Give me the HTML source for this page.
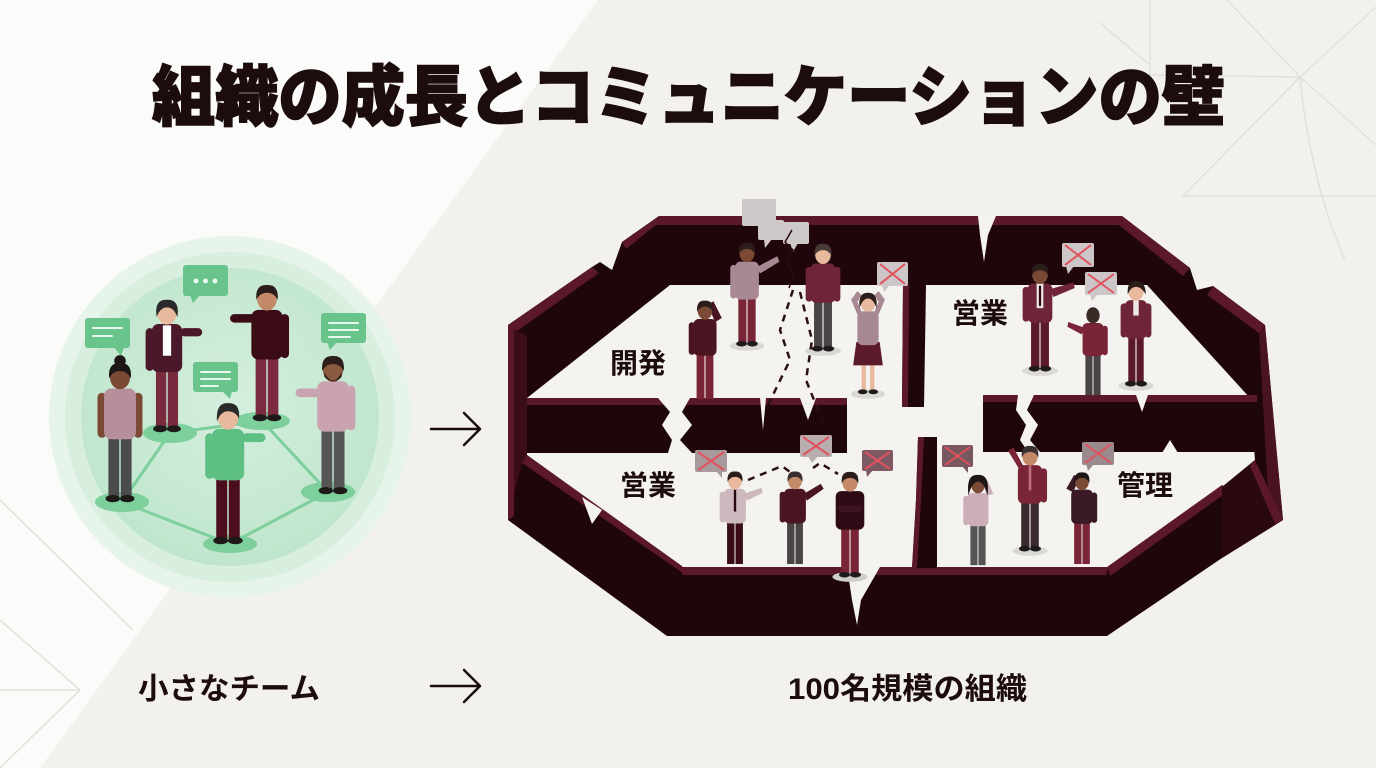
<!DOCTYPE html>
<html><head><meta charset="utf-8">
<style>
html,body{margin:0;padding:0;width:1376px;height:768px;overflow:hidden;background:#f2f1ed}
svg{display:block}
text{font-family:"Liberation Sans","Noto Sans CJK JP",sans-serif}
</style></head><body>
<svg width="1376" height="768" viewBox="0 0 1376 768" xmlns="http://www.w3.org/2000/svg">
<defs>
<radialGradient id="gc" cx="50%" cy="45%" r="55%">
<stop offset="0" stop-color="#d4efde"/><stop offset="1" stop-color="#c0e5cd"/>
</radialGradient>
</defs>
<rect width="1376" height="768" fill="#f2f1ed"/>
<polygon points="0,0 598,0 40,768 0,768" fill="#fbfbfa"/>
<g stroke="#e2e0db" stroke-width="1.5" fill="none">
<path d="M1227,0 L1300,77 L1376,7"/>
<path d="M1300,77 L1183,196 L1376,196"/>
<path d="M1300,77 L1376,145"/>
<path d="M1300,77 Q1310,180 1345,260"/>
<path d="M1150,0 L1150,75 L1300,77"/>
<path d="M1100,23 L1150,65"/>
<path d="M0,500 L133,630"/>
<path d="M0,620 L80,690 L0,768"/>
<path d="M0,690 L80,690"/>
</g>

<!-- Title -->
<text x="152" y="120" font-size="66" font-weight="900" fill="#1c0c0e" stroke="#1c0c0e" stroke-width="1.6" textLength="1073" lengthAdjust="spacingAndGlyphs">組織の成長とコミュニケーションの壁</text>

<!-- Green circle -->
<circle cx="230" cy="417" r="181" fill="#e6f4ea"/>
<circle cx="230" cy="417" r="165" fill="#d8efe0"/>
<circle cx="230" cy="417" r="149" fill="url(#gc)"/>
<g stroke="#7dcf9b" stroke-width="3" fill="none">
<path d="M122,502 L170,433 L262,421 L328,492 L230,544 Z"/>
</g>
<g fill="#7dcf9b">
<ellipse cx="170" cy="433" rx="27" ry="10"/>
<ellipse cx="262" cy="421" rx="28" ry="9"/>
<ellipse cx="328" cy="492" rx="27" ry="10"/>
<ellipse cx="122" cy="502" rx="27" ry="10"/>
<ellipse cx="230" cy="544" rx="27" ry="9"/>
</g>
<!-- green bubbles -->
<g fill="#68c48b">
<rect x="85" y="318" width="45" height="30" rx="3"/><path d="M114,347 L121,356 L124,347Z"/>
<rect x="183" y="265" width="45" height="31" rx="3"/><path d="M190,295 L193,303 L200,295Z"/>
<rect x="193" y="362" width="45" height="30" rx="3"/><path d="M222,391 L230,399 L232,391Z"/>
<rect x="321" y="313" width="45" height="30" rx="3"/><path d="M327,342 L330,350 L337,342Z"/>
</g>
<g stroke="#e8f7ee" stroke-width="2" stroke-linecap="round">
<path d="M93,328 L122,328 M93,336 L112,336"/>
<path d="M201,372 L230,372 M201,379 L230,379 M201,386 L218,386"/>
<path d="M329,323 L358,323 M329,330 L358,330 M329,337 L350,337"/>
</g>
<g fill="#eaf8ef"><circle cx="196" cy="281" r="2.5"/><circle cx="205.5" cy="281" r="2.5"/><circle cx="215" cy="281" r="2.5"/></g>

<!-- green people -->
<g transform="translate(120,503) scale(1.45)">
<rect x="-8" y="-48" width="7.5" height="45" fill="#4b4b4d"/><rect x="0.5" y="-48" width="7.5" height="45" fill="#4b4b4d"/>
<ellipse cx="-5" cy="-3" rx="5" ry="2.5" fill="#1e1a1a"/><ellipse cx="5" cy="-3" rx="5" ry="2.5" fill="#1e1a1a"/>
<rect x="-15.5" y="-76" width="6" height="31" rx="3" fill="#7a4a35"/><rect x="9.5" y="-76" width="6" height="31" rx="3" fill="#7a4a35"/>
<rect x="-11" y="-79" width="22" height="35" rx="5" fill="#b68f9b"/>
<ellipse cx="0" cy="-87" rx="7" ry="8.5" fill="#7a4a35"/>
<path d="M-7.5,-86Q-8.5,-97 0,-96.5Q8.5,-97 7.5,-86Q5,-91 0,-91Q-5,-91-7.5,-86Z" fill="#1e1616"/><circle cx="0" cy="-98" r="4" fill="#1e1616"/>
</g>
<g transform="translate(167,433) scale(1.38)">
<rect x="-8" y="-48" width="7.5" height="45" fill="#7a2a3e"/><rect x="0.5" y="-48" width="7.5" height="45" fill="#7a2a3e"/>
<ellipse cx="-5" cy="-3" rx="5" ry="2.5" fill="#1e1a1a"/><ellipse cx="5" cy="-3" rx="5" ry="2.5" fill="#1e1a1a"/>
<rect x="-15.5" y="-76" width="6" height="31" rx="3" fill="#4a1828"/><rect x="9.5" y="-76" width="16" height="6" rx="3" fill="#4a1828"/>
<rect x="-11" y="-79" width="22" height="35" rx="5" fill="#4a1828"/><rect x="-3" y="-78" width="6" height="22" fill="#ffffff"/>
<ellipse cx="0" cy="-87" rx="7" ry="8.5" fill="#e8b99c"/>
<path d="M-7.5,-84Q-9.5,-97 0,-96.5Q9.5,-97 7.5,-84Q5,-91 0,-91Q-5,-91-7.5,-84Z" fill="#2b2a2a"/>
</g>
<g transform="translate(267,422) scale(1.42)">
<rect x="-8" y="-48" width="7.5" height="45" fill="#7b2a40"/><rect x="0.5" y="-48" width="7.5" height="45" fill="#7b2a40"/>
<ellipse cx="-5" cy="-3" rx="5" ry="2.5" fill="#1e1a1a"/><ellipse cx="5" cy="-3" rx="5" ry="2.5" fill="#1e1a1a"/>
<rect x="-26" y="-76" width="18" height="6" rx="3" fill="#3b0b16"/><rect x="9.5" y="-76" width="6" height="31" rx="3" fill="#3b0b16"/>
<rect x="-11" y="-79" width="22" height="35" rx="5" fill="#3b0b16"/>
<ellipse cx="0" cy="-87" rx="7" ry="8.5" fill="#c48a68"/>
<path d="M-7.5,-86Q-8.5,-97 0,-96.5Q8.5,-97 7.5,-86Q5,-91 0,-91Q-5,-91-7.5,-86Z" fill="#2b1d1a"/>
</g>
<g transform="translate(333,495) scale(1.44)">
<rect x="-8" y="-48" width="7.5" height="45" fill="#555556"/><rect x="0.5" y="-48" width="7.5" height="45" fill="#555556"/>
<ellipse cx="-5" cy="-3" rx="5" ry="2.5" fill="#1e1a1a"/><ellipse cx="5" cy="-3" rx="5" ry="2.5" fill="#1e1a1a"/>
<rect x="-26" y="-74" width="18" height="6" rx="3" fill="#c9a4b0"/><rect x="9.5" y="-76" width="6" height="31" rx="3" fill="#c9a4b0"/>
<rect x="-11" y="-79" width="22" height="35" rx="5" fill="#c9a4b0"/>
<ellipse cx="0" cy="-87" rx="7" ry="8.5" fill="#8a5a40"/>
<path d="M-7.5,-86Q-8.5,-97 0,-96.5Q8.5,-97 7.5,-86Q5,-91 0,-91Q-5,-91-7.5,-86Z" fill="#2b1d1a"/><path d="M-6,-85 Q0,-74 6,-85 L6,-82 Q0,-76 -6,-82Z" fill="#2b1d1a"/>
</g>
<g transform="translate(228,545) scale(1.47)">
<rect x="-8" y="-48" width="7.5" height="45" fill="#4a0e1c"/><rect x="0.5" y="-48" width="7.5" height="45" fill="#4a0e1c"/>
<ellipse cx="-5" cy="-3" rx="5" ry="2.5" fill="#1e1a1a"/><ellipse cx="5" cy="-3" rx="5" ry="2.5" fill="#1e1a1a"/>
<rect x="-15.5" y="-76" width="6" height="31" rx="3" fill="#5dbf82"/><rect x="9.5" y="-76" width="16" height="6" rx="3" fill="#5dbf82"/>
<rect x="-11" y="-79" width="22" height="35" rx="5" fill="#5dbf82"/>
<ellipse cx="0" cy="-87" rx="7" ry="8.5" fill="#e8b99c"/>
<path d="M-7.5,-84Q-8.5,-97 0,-96.5Q8.5,-97 7.5,-86Q5,-91 0,-91Q-5,-91-7.5,-84Z" fill="#2a2a2a"/>
</g>

<!-- Arrows -->
<g stroke="#1c0c0e" stroke-width="2.5" fill="none" stroke-linecap="round" stroke-linejoin="round">
<path d="M431,429 L480,429 M464,413 L480,429 L464,445"/>
<path d="M431,686 L480,686 M464,670 L480,686 L464,702"/>
</g>

<!-- Walls -->
<path d="M659,216 L1122,216 L1190,268 L1197,290 L1213,286 L1265,325 L1283,520 L1222,558 L1107,636 L667,636 L508,520 L508,325 L592,267 L600,262 L612,270 L622,242 Z" fill="#1f060b"/>
<path d="M670,285 L1147,285 L1250,398 L1255,460 L1222,487 L1107,568 L682,568 L527,455 L527,398 Z" fill="#f4f3f0"/>
<g fill="#5a1828">
<path d="M659,216 L1122,216 L1190,268 L1183,276 L1119,225 L656,225 Z"/>
<path d="M659,216 L656,225 L626,249 L622,242 Z"/>
<path d="M592,267 L599,273 L517,331 L508,325 Z"/>
<path d="M1213,286 L1265,325 L1259,333 L1207,295 Z"/>
<path d="M527,455 L682,566 L686,575 L522,463 Z"/>
<rect x="682" y="567" width="425" height="8"/>
<path d="M1107,567 L1222,485 L1230,490 L1110,576 Z"/>
</g>
<path d="M508,325 L517,331 L527,336 L527,455 L522,463 L508,520 Z" fill="#3a0d18"/>
<path d="M508,325 L514,329 L514,516 L508,520 Z" fill="#5a1828"/>
<path d="M1259,333 L1265,325 L1283,520 L1270,527 Z" fill="#4a1322"/>
<path d="M1222,487 L1255,460 L1283,520 L1222,558 Z" fill="#2a0810"/>
<path d="M1255,460 L1283,520 L1275,524 L1250,466 Z" fill="#5a1828"/>
<!-- cracks outer -->
<path d="M978,216 L996,216 L988,235 L984,262 L980,235 Z" fill="#f4f3f0"/>
<path d="M847,567 L880,567 L861,600 L857,625 L852,600 Z" fill="#f4f3f0"/>
<path d="M582,497 L602,510 L592,524 Z" fill="#f4f3f0"/>
<!-- middle west wall -->
<rect x="527" y="398" width="320" height="55" fill="#1f060b"/>
<rect x="527" y="398" width="320" height="7" fill="#5a1828"/>
<path d="M658,398 L690,398 L682,412 L692,425 L680,440 L692,453 L668,453 L672,440 L662,425 L670,412 Z" fill="#f4f3f0"/>
<path d="M800,398 L816,398 L808,420 Z" fill="#f4f3f0"/>
<path d="M760,398 L766,398 L763,430 Z" fill="#f4f3f0"/>
<!-- middle east wall -->
<rect x="983" y="395" width="274" height="57" fill="#1f060b"/>
<rect x="983" y="395" width="274" height="7" fill="#5a1828"/>
<path d="M1018,395 L1034,395 L1027,410 L1038,425 L1030,440 L1040,452 L1028,452 L1020,440 L1026,425 L1016,410 Z" fill="#f4f3f0"/>
<path d="M1136,395 L1148,395 L1142,412 Z" fill="#f4f3f0"/>
<path d="M1162,453 L1178,453 L1170,440 Z" fill="#f4f3f0"/>
<!-- vertical dividers -->
<path d="M903,285 L926,285 L924,407 L902,407 Z" fill="#1f060b"/>
<path d="M903,285 L909,285 L908,407 L902,407 Z" fill="#5a1828"/>
<path d="M918,437 L937,437 L937,568 L912,568 L916,500 Z" fill="#1f060b"/>
<path d="M918,437 L924,437 L921,500 L917,568 L912,568 L916,500 Z" fill="#5a1828"/>

<!-- Wall-scene people -->
<g transform="translate(705,402) scale(1.05)">
<rect x="-8" y="-48" width="7.5" height="45" fill="#7a2438"/><rect x="0.5" y="-48" width="7.5" height="45" fill="#7a2438"/>
<rect x="-15.5" y="-76" width="6" height="31" rx="3" fill="#4a1420"/><path d="M9.5,-76 L16,-80 L8,-96 L3,-93 Z" fill="#4a1420"/>
<rect x="-11" y="-79" width="22" height="35" rx="5" fill="#4a1420"/>
<ellipse cx="0" cy="-87" rx="7" ry="8.5" fill="#7a4a35"/>
<path d="M-7.5,-86Q-8.5,-97 0,-96.5Q8.5,-97 7.5,-86Q5,-91 0,-91Q-5,-91-7.5,-86Z" fill="#2b1d1a"/>
</g>
<g transform="translate(747,347) scale(1.08)">
<ellipse cx="0" cy="-1" rx="16" ry="4.5" fill="#dad8d5"/>
<rect x="-8" y="-48" width="7.5" height="45" fill="#7a2438"/><rect x="0.5" y="-48" width="7.5" height="45" fill="#7a2438"/>
<ellipse cx="-5" cy="-3" rx="5" ry="2.5" fill="#1e1a1a"/><ellipse cx="5" cy="-3" rx="5" ry="2.5" fill="#1e1a1a"/>
<rect x="-15.5" y="-76" width="6" height="31" rx="3" fill="#a88892"/><path d="M9,-74 L28,-84 L30,-79 L12,-68 Z" fill="#a88892"/>
<rect x="-11" y="-79" width="22" height="35" rx="5" fill="#a88892"/>
<ellipse cx="0" cy="-87" rx="7" ry="8.5" fill="#7a4a35"/>
<path d="M-7.5,-86Q-8.5,-97 0,-96.5Q8.5,-97 7.5,-86Q5,-91 0,-91Q-5,-91-7.5,-86Z" fill="#2b1d1a"/>
</g>
<g transform="translate(823,352) scale(1.12)">
<ellipse cx="0" cy="-1" rx="16" ry="4.5" fill="#dad8d5"/>
<rect x="-8" y="-48" width="7.5" height="45" fill="#4a4446"/><rect x="0.5" y="-48" width="7.5" height="45" fill="#4a4446"/>
<ellipse cx="-5" cy="-3" rx="5" ry="2.5" fill="#1e1a1a"/><ellipse cx="5" cy="-3" rx="5" ry="2.5" fill="#1e1a1a"/>
<rect x="-15.5" y="-76" width="6" height="31" rx="3" fill="#6e2537"/><rect x="9.5" y="-76" width="6" height="31" rx="3" fill="#6e2537"/>
<rect x="-11" y="-79" width="22" height="35" rx="5" fill="#6e2537"/>
<ellipse cx="0" cy="-87" rx="7" ry="8.5" fill="#e8b99c"/>
<path d="M-7.5,-86Q-8.5,-97 0,-96.5Q8.5,-97 7.5,-86Q5,-91 0,-91Q-5,-91-7.5,-86Z" fill="#4a3a35"/>
</g>
<g transform="translate(868,395) scale(1.06)">
<ellipse cx="0" cy="-1" rx="16" ry="4.5" fill="#dad8d5"/>
<rect x="-6" y="-40" width="4" height="37" fill="#e8b99c"/><rect x="2" y="-40" width="4" height="37" fill="#e8b99c"/>
<ellipse cx="-5" cy="-3" rx="4.5" ry="2.3" fill="#1e1a1a"/><ellipse cx="5" cy="-3" rx="4.5" ry="2.3" fill="#1e1a1a"/>
<path d="M-11,-50 L11,-50 L14,-28 L-14,-28 Z" fill="#5a1a2a"/>
<path d="M-10,-76 L-16,-90 L-10,-98 L-6,-94 L-10,-88 L-5,-76 Z" fill="#a88892"/><path d="M10,-76 L16,-90 L10,-98 L6,-94 L10,-88 L5,-76 Z" fill="#a88892"/>
<rect x="-10" y="-79" width="20" height="32" rx="5" fill="#a88892"/>
<ellipse cx="0" cy="-87" rx="7" ry="8.5" fill="#e8b99c"/>
<path d="M-8,-82Q-9.5,-97 0,-96.5Q9.5,-97 8,-82Q5,-91 0,-91Q-5,-91-8,-82Z" fill="#2b1d1a"/>
</g>
<g transform="translate(1040,372) scale(1.12)">
<ellipse cx="0" cy="-1" rx="16" ry="4.5" fill="#dad8d5"/>
<rect x="-8" y="-48" width="7.5" height="45" fill="#5a1a2a"/><rect x="0.5" y="-48" width="7.5" height="45" fill="#5a1a2a"/>
<ellipse cx="-5" cy="-3" rx="5" ry="2.5" fill="#1e1a1a"/><ellipse cx="5" cy="-3" rx="5" ry="2.5" fill="#1e1a1a"/>
<rect x="-15.5" y="-76" width="6" height="31" rx="3" fill="#6e2537"/><path d="M9,-74 L30,-80 L31,-75 L12,-67 Z" fill="#6e2537"/>
<rect x="-11" y="-79" width="22" height="35" rx="5" fill="#6e2537"/><rect x="-3" y="-79" width="6" height="22" fill="#f0e6e8"/><rect x="-1" y="-77" width="2" height="18" fill="#2a0a12"/>
<ellipse cx="0" cy="-87" rx="7" ry="8.5" fill="#7a4a35"/>
<path d="M-7.5,-86Q-8.5,-97 0,-96.5Q8.5,-97 7.5,-86Q5,-91 0,-91Q-5,-91-7.5,-86Z" fill="#2b1d1a"/>
</g>
<g transform="translate(1093,398) scale(0.95)">
<rect x="-8" y="-48" width="7.5" height="45" fill="#4a4446"/><rect x="0.5" y="-48" width="7.5" height="45" fill="#4a4446"/>
<path d="M-9,-74 L-26,-80 L-27,-75 L-12,-67 Z" fill="#7a2438"/><rect x="9.5" y="-76" width="6" height="31" rx="3" fill="#7a2438"/>
<rect x="-11" y="-79" width="22" height="35" rx="5" fill="#7a2438"/>
<ellipse cx="0" cy="-87" rx="7" ry="8.5" fill="#3a2a25"/>
</g>
<g transform="translate(1136,387) scale(1.1)">
<ellipse cx="0" cy="-1" rx="16" ry="4.5" fill="#dad8d5"/>
<rect x="-7" y="-48" width="6.5" height="45" fill="#5a1a2a"/><rect x="0.5" y="-48" width="6.5" height="45" fill="#5a1a2a"/>
<ellipse cx="-5" cy="-3" rx="5" ry="2.5" fill="#1e1a1a"/><ellipse cx="5" cy="-3" rx="5" ry="2.5" fill="#1e1a1a"/>
<rect x="-14" y="-76" width="6" height="31" rx="3" fill="#6e2537"/><rect x="8" y="-76" width="6" height="31" rx="3" fill="#6e2537"/>
<rect x="-10" y="-79" width="20" height="35" rx="5" fill="#6e2537"/><rect x="-2.5" y="-79" width="5" height="14" fill="#f0e6e8"/>
<ellipse cx="0" cy="-87" rx="7" ry="8.5" fill="#e8b99c"/>
<path d="M-7.5,-84Q-8.5,-97 0,-96.5Q8.5,-97 9,-84Q5,-91 0,-91Q-5,-91-7.5,-84Z" fill="#2b1d1a"/>
</g>
<g transform="translate(735,567) scale(0.99)">
<rect x="-8" y="-48" width="7.5" height="45" fill="#3a0c18"/><rect x="0.5" y="-48" width="7.5" height="45" fill="#3a0c18"/>
<rect x="-15.5" y="-76" width="6" height="31" rx="3" fill="#cdb8bd"/><path d="M9,-74 L27,-80 L28,-75 L12,-67 Z" fill="#cdb8bd"/>
<rect x="-11" y="-79" width="22" height="35" rx="5" fill="#cdb8bd"/><rect x="-1.2" y="-78" width="2.4" height="22" fill="#2a0a12"/>
<ellipse cx="0" cy="-87" rx="7" ry="8.5" fill="#e8b99c"/>
<path d="M-7.5,-86Q-8.5,-97 0,-96.5Q8.5,-97 7.5,-86Q5,-91 0,-91Q-5,-91-7.5,-86Z" fill="#2b1d1a"/>
</g>
<g transform="translate(795,567) scale(0.99)">
<rect x="-8" y="-48" width="7.5" height="45" fill="#4a4446"/><rect x="0.5" y="-48" width="7.5" height="45" fill="#4a4446"/>
<rect x="-15.5" y="-76" width="6" height="31" rx="3" fill="#4a1420"/><path d="M9,-74 L26,-84 L29,-79 L12,-67 Z" fill="#4a1420"/>
<rect x="-11" y="-79" width="22" height="35" rx="5" fill="#4a1420"/>
<ellipse cx="0" cy="-87" rx="7" ry="8.5" fill="#c48a68"/>
<path d="M-7.5,-86Q-8.5,-97 0,-96.5Q8.5,-97 7.5,-86Q5,-91 0,-91Q-5,-91-7.5,-86Z" fill="#3a3030"/>
</g>
<g transform="translate(850,578) scale(1.1)">
<ellipse cx="0" cy="-1" rx="16" ry="4.5" fill="#cfcdca"/>
<rect x="-8" y="-48" width="7.5" height="45" fill="#7a2438"/><rect x="0.5" y="-48" width="7.5" height="45" fill="#7a2438"/>
<ellipse cx="-5" cy="-3" rx="5" ry="2.5" fill="#1e1a1a"/><ellipse cx="5" cy="-3" rx="5" ry="2.5" fill="#1e1a1a"/>
<rect x="-13" y="-79" width="26" height="35" rx="5" fill="#2e0a14"/><rect x="-11" y="-66" width="22" height="6" rx="3" fill="#3e1420"/>
<ellipse cx="0" cy="-87" rx="7" ry="8.5" fill="#c48a68"/>
<path d="M-7.5,-86Q-8.5,-97 0,-96.5Q8.5,-97 7.5,-86Q5,-91 0,-91Q-5,-91-7.5,-86Z" fill="#2b1d1a"/>
</g>
<g transform="translate(978,568) scale(0.95)">
<rect x="-8" y="-48" width="7.5" height="45" fill="#555"/><rect x="0.5" y="-48" width="7.5" height="45" fill="#555"/>
<rect x="-15.5" y="-76" width="6" height="31" rx="3" fill="#cdaeb8"/><path d="M9,-76 L16,-78 L10,-92 L5,-90 Z" fill="#cdaeb8"/>
<rect x="-11" y="-79" width="22" height="35" rx="5" fill="#cdaeb8"/>
<ellipse cx="0" cy="-87" rx="7" ry="8.5" fill="#7a4a35"/>
<path d="M-10,-76Q-13,-99 0,-98Q13,-99 10,-76Q7,-90 0,-91Q-7,-90-10,-76Z" fill="#1e1616"/>
</g>
<g transform="translate(1030,552) scale(1.1)">
<ellipse cx="0" cy="-1" rx="16" ry="4.5" fill="#dad8d5"/>
<rect x="-8" y="-48" width="7.5" height="45" fill="#3a2a30"/><rect x="0.5" y="-48" width="7.5" height="45" fill="#3a2a30"/>
<ellipse cx="-5" cy="-3" rx="5" ry="2.5" fill="#1e1a1a"/><ellipse cx="5" cy="-3" rx="5" ry="2.5" fill="#1e1a1a"/>
<path d="M-9,-74 L-20,-92 L-15,-95 L-6,-78 Z" fill="#7a2438"/><rect x="9.5" y="-76" width="6" height="31" rx="3" fill="#7a2438"/>
<rect x="-11" y="-79" width="22" height="35" rx="5" fill="#7a2438"/><rect x="-1.2" y="-78" width="2.4" height="22" fill="#c07080"/>
<ellipse cx="0" cy="-87" rx="7" ry="8.5" fill="#c48a68"/>
<path d="M-7.5,-86Q-8.5,-97 0,-96.5Q8.5,-97 7.5,-86Q5,-91 0,-91Q-5,-91-7.5,-86Z" fill="#3a3030"/>
</g>
<g transform="translate(1082,567) scale(0.98)">
<rect x="-8" y="-48" width="7.5" height="45" fill="#7a2438"/><rect x="0.5" y="-48" width="7.5" height="45" fill="#7a2438"/>
<path d="M-9,-76 L-16,-80 L-8,-94 L-3,-91 Z" fill="#3a1a25"/><rect x="9.5" y="-76" width="6" height="31" rx="3" fill="#3a1a25"/>
<rect x="-11" y="-79" width="22" height="35" rx="5" fill="#3a1a25"/>
<ellipse cx="0" cy="-87" rx="7" ry="8.5" fill="#7a4a35"/>
<path d="M-7.5,-86Q-8.5,-97 0,-96.5Q8.5,-97 7.5,-86Q5,-91 0,-91Q-5,-91-7.5,-86Z" fill="#1e1616"/>
</g>

<!-- top grey bubbles -->
<g fill="#cfc8c9">
<rect x="742" y="199" width="34" height="27" rx="2"/><path d="M758,225 L762,238 L768,225Z"/>
<rect x="758" y="220" width="26" height="20" rx="2"/><path d="M764,239 L765,248 L772,239Z"/>
<rect x="783" y="222" width="26" height="22" rx="2"/><path d="M790,243 L793,252 L798,243Z"/>
</g>
<path d="M792,230 L785,242 L793,250 L786,262 L794,275 L789,288" stroke="#2a0a12" stroke-width="1.5" fill="none"/>

<!-- X bubbles -->
<g stroke="#e0525c" stroke-width="2">
<rect x="877" y="262" width="31" height="24" rx="2" fill="#cdc6c8" stroke="none"/><path d="M882,285 L884,292 L890,285Z" fill="#cdc6c8" stroke="none"/><path d="M880,264 L905,284 M905,264 L880,284"/>
<rect x="1062" y="243" width="32" height="24" rx="2" fill="#cdc6c8" stroke="none"/><path d="M1066,266 L1068,274 L1074,266Z" fill="#cdc6c8" stroke="none"/><path d="M1065,245 L1091,265 M1091,245 L1065,265"/>
<rect x="1085" y="272" width="32" height="23" rx="2" fill="#cdc6c8" stroke="none"/><path d="M1090,294 L1092,301 L1098,294Z" fill="#cdc6c8" stroke="none"/><path d="M1088,274 L1114,293 M1114,274 L1088,293"/>
<rect x="695" y="450" width="32" height="22" rx="2" fill="#a8999d" stroke="none"/><path d="M716,471 L722,478 L722,471Z" fill="#a8999d" stroke="none"/><path d="M698,452 L724,470 M724,452 L698,470"/>
<rect x="800" y="435" width="32" height="22" rx="2" fill="#b9adb0" stroke="none"/><path d="M808,456 L812,463 L818,456Z" fill="#b9adb0" stroke="none"/><path d="M803,437 L829,455 M829,437 L803,455"/>
<rect x="862" y="450" width="31" height="21" rx="2" fill="#7d5a63" stroke="none"/><path d="M866,470 L867,477 L873,470Z" fill="#7d5a63" stroke="none"/><path d="M865,452 L890,469 M890,452 L865,469"/>
<rect x="942" y="445" width="31" height="22" rx="2" fill="#7a5860" stroke="none"/><path d="M962,466 L968,473 L968,466Z" fill="#7a5860" stroke="none"/><path d="M945,447 L970,465 M970,447 L945,465"/>
<rect x="1082" y="442" width="32" height="23" rx="2" fill="#9a8a8e" stroke="none"/><path d="M1086,464 L1088,471 L1094,464Z" fill="#9a8a8e" stroke="none"/><path d="M1085,444 L1111,463 M1111,444 L1085,463"/>
</g>

<!-- dashed lines -->
<g stroke="#2a1015" stroke-width="2.5" fill="none" stroke-dasharray="7 6">
<path d="M793,290 L780,330 L790,360 L768,405"/>
<path d="M800,292 L812,340 L806,380 L822,420"/>
<path d="M748,480 L782,466 L790,472"/>
<path d="M813,468 L820,463 L838,474"/>
</g>

<!-- Labels -->
<g font-size="28" font-weight="700" fill="#1c0c0e">
<text x="610" y="373" textLength="56" lengthAdjust="spacingAndGlyphs">開発</text>
<text x="952" y="323" textLength="56" lengthAdjust="spacingAndGlyphs">営業</text>
<text x="620" y="495" textLength="56" lengthAdjust="spacingAndGlyphs">営業</text>
<text x="1117" y="495" textLength="56" lengthAdjust="spacingAndGlyphs">管理</text>
</g>
<g font-size="30" font-weight="700" fill="#1c0c0e">
<text x="138" y="699" textLength="182" lengthAdjust="spacingAndGlyphs">小さなチーム</text>
<text x="788" y="699" textLength="239" lengthAdjust="spacingAndGlyphs">100名規模の組織</text>
</g>
</svg>
</body></html>
